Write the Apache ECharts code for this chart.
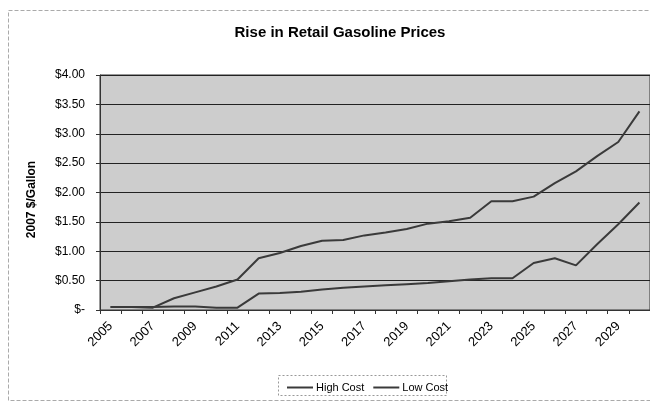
<!DOCTYPE html>
<html>
<head>
<meta charset="utf-8">
<title>Rise in Retail Gasoline Prices</title>
<script src="https://cdn.jsdelivr.net/npm/echarts@6/dist/echarts.min.js"></script>
<style>
  html, body { margin: 0; padding: 0; background: #fff; }
  #chart { width: 650px; height: 404px; }
</style>
</head>
<body>
<div id="chart"></div>
<script>
// years on the category axis
const years = ['2005', '2006', '2007', '2008', '2009', '2010', '2011', '2012', '2013',
  '2014', '2015', '2016', '2017', '2018', '2019', '2020', '2021', '2022', '2023',
  '2024', '2025', '2026', '2027', '2028', '2029', '2030']

// 2007 $/gallon
const highCost = [0.05, 0.05, 0.04, 0.20, 0.30, 0.40, 0.52, 0.88, 0.97, 1.09, 1.18, 1.19, 1.27,
  1.32, 1.38, 1.47, 1.51, 1.57, 1.85, 1.85, 1.93, 2.16, 2.36, 2.62, 2.86, 3.38]
const lowCost = [0.05, 0.05, 0.05, 0.06, 0.06, 0.04, 0.04, 0.28, 0.29, 0.31, 0.35, 0.38, 0.40,
  0.42, 0.44, 0.46, 0.49, 0.52, 0.54, 0.54, 0.80, 0.88, 0.76, 1.12, 1.46, 1.83]

const yTickLabels = ['$-', '$0.50', '$1.00', '$1.50', '$2.00', '$2.50', '$3.00', '$3.50', '$4.00']

const chart = echarts.init(document.getElementById('chart'))
const lineColor = '#3a3a3a'
const font = 'Liberation Sans, Arial, sans-serif'

chart.setOption({
  animation: false,
  backgroundColor: '#ffffff',
  title: {
    text: 'Rise in Retail Gasoline Prices',
    left: 335,
    textAlign: 'center',
    top: 20,
    textStyle: {
      fontFamily: font,
      fontSize: 15,
      fontWeight: 'bold',
      color: '#000'
    }
  },
  graphic: [
    {
      type: 'rect',
      left: 6,
      top: 8,
      shape: { width: 660, height: 390 },
      style: { fill: 'none', stroke: '#aaa', lineWidth: 1, lineDash: [4, 2] },
      silent: true
    },
    {
      type: 'rect',
      left: 276,
      top: 373,
      shape: { width: 168, height: 20 },
      style: { fill: 'none', stroke: '#999', lineWidth: 1, lineDash: [2, 2] },
      silent: true
    }
  ],
  legend: {
    left: 282,
    top: 377,
    itemWidth: 26,
    itemHeight: 2,
    itemGap: 9,
    icon: 'rect',
    textStyle: {
      fontFamily: font,
      fontSize: 11,
      color: '#000',
      padding: [0, 0, 0, -2]
    },
    data: ['High Cost', 'Low Cost']
  },
  grid: {
    left: 100,
    top: 75,
    width: 552,
    height: 235,
    show: true,
    backgroundColor: '#cdcdcd',
    borderColor: '#333',
    borderWidth: 1
  },
  xAxis: {
    type: 'category',
    data: years,
    boundaryGap: true,
    axisLine: { lineStyle: { color: '#333', width: 1 } },
    axisTick: { show: true, interval: 0, length: 4, lineStyle: { color: '#333' } },
    axisLabel: {
      interval: 1,
      rotate: 45,
      margin: 14,
      fontFamily: font,
      fontSize: 13,
      color: '#000'
    }
  },
  yAxis: {
    type: 'value',
    min: 0,
    max: 4,
    interval: 0.5,
    name: '2007 $/Gallon',
    nameLocation: 'middle',
    nameGap: 62,
    nameRotate: 90,
    nameTextStyle: {
      fontFamily: font,
      fontSize: 12,
      fontWeight: 'bold',
      color: '#000',
      padding: [0, 0, 0, -14]
    },
    axisLine: { show: true, lineStyle: { color: '#333' } },
    axisTick: { show: true, length: 4, lineStyle: { color: '#333' } },
    splitLine: { show: true, lineStyle: { color: '#222', width: 1 } },
    axisLabel: {
      margin: 15,
      fontFamily: font,
      fontSize: 12,
      color: '#000',
      formatter: function (v) {
        return yTickLabels[Math.round(v / 0.5)]
      }
    }
  },
  series: [
    {
      name: 'High Cost',
      type: 'line',
      data: highCost,
      symbol: 'none',
      color: lineColor,
      lineStyle: { color: lineColor, width: 2 }
    },
    {
      name: 'Low Cost',
      type: 'line',
      data: lowCost,
      symbol: 'none',
      color: lineColor,
      lineStyle: { color: lineColor, width: 2 }
    }
  ]
})
</script>
</body>
</html>
